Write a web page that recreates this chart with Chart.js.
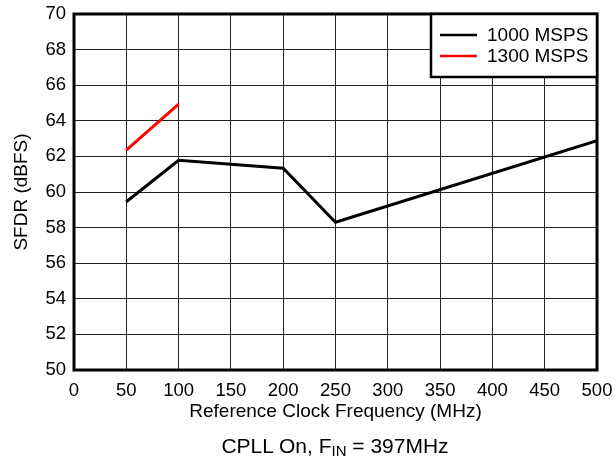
<!DOCTYPE html>
<html>
<head>
<meta charset="utf-8">
<script src="https://cdn.jsdelivr.net/npm/chart.js@4"></script>
<style>
    body { margin: 0; background: #fff; }
    #wrap { position: relative; width: 615px; height: 461px; }
    #caption {
        position: absolute; left: 135px; width: 400px; top: 435px;
        text-align: center; font-family: "Liberation Sans", Arial, sans-serif;
        font-size: 21px; line-height: 21px; color: #000;
    }
    #caption sub { font-size: 15px; vertical-align: -3px; line-height: 0; }
</style>
</head>
<body>
<div id="wrap">
    <canvas id="sfdrChart" width="615" height="461"></canvas>
    <div id="caption">CPLL On, F<sub>IN</sub> = 397MHz</div>
</div>
<script>
// values
const refClock1000 = [50, 100, 200, 250, 500];
const sfdr1000 = [59.45, 61.78, 61.33, 58.3, 62.88];
const refClock1300 = [50, 100];
const sfdr1300 = [62.35, 64.93];
const seriesLabels = ["1000 MSPS", "1300 MSPS"];
const seriesColors = ["#000000", "#ff0000"];

const FONT = "'Liberation Sans', Arial, sans-serif";

function toPoints(xs, ys) {
    return xs.map((x, i) => ({ x: x, y: ys[i] }));
}

// the layout padding alone should decide where the plot area sits
function noLabelPadding(scale) {
    scale.paddingTop = 0;
    scale.paddingBottom = 0;
    scale.paddingLeft = 0;
    scale.paddingRight = 0;
}

// frame round the plot area + boxed legend in the top right corner
const frameAndLegend = {
    id: "frameAndLegend",
    afterDraw(chart) {
        const ctx = chart.ctx;
        const a = chart.chartArea;
        ctx.save();
        ctx.strokeStyle = "#000";
        ctx.lineWidth = 3;
        ctx.strokeRect(a.left, a.top, a.right - a.left, a.bottom - a.top);

        // legend
        const boxW = 166, boxH = 63;
        const bx = a.right - boxW, by = a.top;
        ctx.fillStyle = "#fff";
        ctx.fillRect(bx, by, boxW, boxH);
        ctx.lineWidth = 2.5;
        ctx.strokeRect(bx, by, boxW, boxH);

        ctx.font = "19px " + FONT;
        ctx.textBaseline = "middle";
        ctx.textAlign = "left";
        chart.data.datasets.forEach((ds, i) => {
            const y = by + 21 + i * 21;
            ctx.strokeStyle = ds.borderColor;
            ctx.lineWidth = 2.5;
            ctx.beginPath();
            ctx.moveTo(bx + 9, y);
            ctx.lineTo(bx + 46, y);
            ctx.stroke();
            ctx.fillStyle = "#000";
            ctx.fillText(ds.label, bx + 56, y + 1);
        });
        ctx.restore();
    }
};

const ctx = document.getElementById("sfdrChart").getContext("2d");
new Chart(ctx, {
    type: "line",
    data: {
        datasets: [{
            label: seriesLabels[0],
            data: toPoints(refClock1000, sfdr1000),
            borderColor: seriesColors[0],
            borderWidth: 3,
            pointRadius: 0,
            fill: false,
            tension: 0
        }, {
            label: seriesLabels[1],
            data: toPoints(refClock1300, sfdr1300),
            borderColor: seriesColors[1],
            borderWidth: 3,
            pointRadius: 0,
            fill: false,
            tension: 0
        }]
    },
    options: {
        responsive: false,
        animation: false,
        layout: { padding: { top: 14, right: 18, bottom: 38, left: 0 } },
        plugins: {
            legend: { display: false },
            tooltip: { enabled: false }
        },
        scales: {
            x: {
                type: "linear",
                min: 0,
                max: 500,
                ticks: { stepSize: 50, color: "#000", font: { family: FONT, size: 18.5 }, padding: 10, maxRotation: 0 },
                grid: { color: "#222", lineWidth: 1, drawTicks: false },
                border: { display: false },
                title: {
                    display: true,
                    text: "Reference Clock Frequency (MHz)",
                    color: "#000",
                    font: { family: FONT, size: 19 },
                    padding: 0
                },
                afterFit(scale) {
                    scale.height = 53;
                    noLabelPadding(scale);
                }
            },
            y: {
                min: 50,
                max: 70,
                ticks: { stepSize: 2, color: "#000", font: { family: FONT, size: 18.5 }, padding: 8 },
                grid: { color: "#222", lineWidth: 1, drawTicks: false },
                border: { display: false },
                title: {
                    display: true,
                    text: "SFDR (dBFS)",
                    color: "#000",
                    font: { family: FONT, size: 19 },
                    padding: { top: 10, bottom: 0 }
                },
                afterFit(scale) {
                    scale.width = 74;
                    noLabelPadding(scale);
                }
            }
        }
    },
    plugins: [frameAndLegend]
});
</script>
</body>
</html>
